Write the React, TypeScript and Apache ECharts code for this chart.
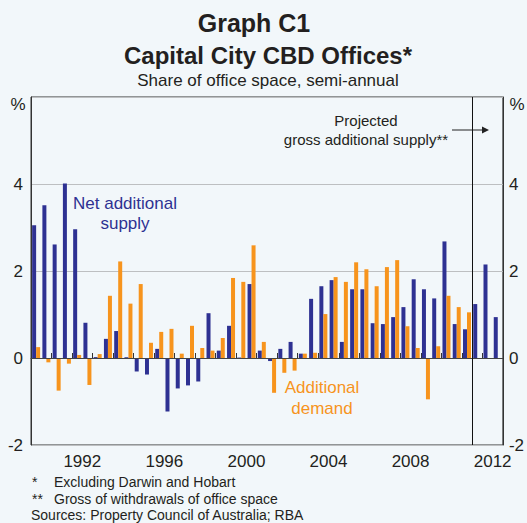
import React, { useEffect, useRef } from "react";
import * as echarts from "echarts";

const periods: string[] = [];
for (let y = 1990; y <= 2012; y++) {
  periods.push(`${y}-H1`);
  periods.push(`${y}-H2`);
}
const years: string[] = [];
for (let y = 1990; y <= 2012; y++) years.push(String(y));

// Net additional supply (per cent of office space), semi-annual
const supply = [
  3.05, 3.51, 2.61, 4.01, 2.96, 0.81, 0.02, 0.44, 0.62, 0.02,
  -0.31, -0.38, 0.21, -1.23, -0.70, -0.63, -0.54, 1.03, 0.17, 0.74,
  0.01, 1.70, 0.17, -0.07, 0.21, 0.37, 0.10, 1.36, 1.65, 1.79,
  0.37, 1.58, 1.58, 0.80, 0.78, 0.94, 1.17, 1.81, 1.58, 1.37,
  2.68, 0.78, 0.66, 1.24, 2.15, 0.94,
];
// Additional demand
const demand = [
  0.25, -0.10, -0.75, -0.13, 0.07, -0.62, 0.09, 1.43, 2.22, 1.25,
  1.70, 0.35, 0.60, 0.67, 0.10, 0.74, 0.23, 0.17, 0.46, 1.84,
  1.75, 2.59, 0.37, -0.80, -0.34, -0.29, 0.10, 0.12, 1.01, 1.86,
  1.75, 2.20, 2.04, 1.65, 2.09, 2.25, 0.73, 0.23, -0.95, 0.27,
  1.43, 1.17, 1.05, null, null, null,
];
const projectionStartYear = "2011";
const yTicks = { min: -2, max: 6, interval: 2 };

const BLUE = "#2E3192";
const ORANGE = "#F7941D";
const BG = "#F2F7FA";
const FONT = "Liberation Sans, Arial, sans-serif";
const TXT = "#231F20";

export default function App() {
  const ref = useRef<HTMLDivElement>(null);
  useEffect(() => {
    if (!ref.current) return;
    const chart = echarts.init(ref.current, null, { renderer: "svg" });
    const t = (x: number, y: number, text: string, size: number, opts: any = {}) => ({
      type: "text",
      x,
      y,
      style: {
        text,
        fontSize: size,
        fontFamily: FONT,
        fill: opts.fill || TXT,
        fontWeight: opts.bold ? "bold" : "normal",
        align: opts.align || "center",
        verticalAlign: "middle",
        lineHeight: opts.lineHeight,
      },
    });
    chart.setOption({
      animation: false,
      backgroundColor: BG,
      textStyle: { fontFamily: FONT },
      grid: {
        left: 31,
        right: 22,
        top: 97,
        bottom: 78,
        show: true,
        borderColor: "#333",
        borderWidth: 1,
        backgroundColor: "transparent",
      },
      xAxis: [
        {
          type: "category",
          data: periods,
          boundaryGap: true,
          axisLine: { show: false },
          axisTick: { show: false },
          axisLabel: { show: false },
          splitLine: { show: false },
        },
        {
          type: "category",
          data: years,
          position: "bottom",
          boundaryGap: true,
          axisLine: { show: true, lineStyle: { color: "#333", width: 1 } },
          axisTick: { show: true, inside: true, length: 5, interval: 0, lineStyle: { color: "#333" } },
          axisLabel: {
            interval: (i: number, v: string) => Number(v) % 4 === 0,
            fontSize: 17,
            color: TXT,
            margin: 8,
            fontFamily: FONT,
          },
          splitLine: { show: false },
        },
      ],
      yAxis: [
        {
          type: "value",
          ...yTicks,
          axisLine: { show: true, lineStyle: { color: "#333" } },
          axisTick: { show: false },
          axisLabel: {
            fontSize: 17,
            color: TXT,
            margin: 8,
            fontFamily: FONT,
            formatter: (v: number) => (v === yTicks.max ? "" : String(v)),
          },
          splitLine: { show: true, lineStyle: { color: "#BDBFC1", width: 1 } },
        },
        {
          type: "value",
          position: "right",
          ...yTicks,
          axisLine: { show: true, lineStyle: { color: "#333" } },
          axisTick: { show: false },
          axisLabel: {
            fontSize: 17,
            color: TXT,
            margin: 6,
            fontFamily: FONT,
            formatter: (v: number) => (v === yTicks.max ? "" : String(v)),
          },
          splitLine: { show: false },
        },
      ],
      series: [
        {
          name: "Net additional supply",
          type: "bar",
          xAxisIndex: 0,
          yAxisIndex: 0,
          data: supply,
          barWidth: 4,
          barGap: "0%",
          itemStyle: { color: BLUE },
          markLine: {
            silent: true,
            symbol: "none",
            label: { show: false },
            lineStyle: { color: "#444", width: 1, type: "solid" },
            data: [{ yAxis: 0 }],
          },
        },
        {
          name: "Additional demand",
          type: "bar",
          xAxisIndex: 0,
          yAxisIndex: 0,
          data: demand,
          barWidth: 4,
          barGap: "0%",
          itemStyle: { color: ORANGE },
        },
        {
          name: "projection",
          type: "line",
          xAxisIndex: 1,
          yAxisIndex: 0,
          data: [],
          markLine: {
            silent: true,
            symbol: "none",
            label: { show: false },
            lineStyle: { color: "#111", width: 1, type: "solid" },
            data: [{ xAxis: projectionStartYear }],
          },
        },
      ],
      graphic: [
        t(254, 23, "Graph C1", 25, { bold: true }),
        t(268, 55, "Capital City CBD Offices*", 24, { bold: true }),
        t(268, 80, "Share of office space, semi-annual", 17),
        t(18, 104, "%", 17),
        t(517, 104, "%", 17),
        t(125, 213, "Net additional\nsupply", 17, { fill: BLUE, lineHeight: 20 }),
        t(322, 398, "Additional\ndemand", 17, { fill: ORANGE, lineHeight: 21 }),
        t(366, 130, "Projected\ngross additional supply**", 15, { lineHeight: 19 }),
        {
          type: "line",
          shape: { x1: 452, y1: 130, x2: 483, y2: 130 },
          style: { stroke: "#222", lineWidth: 1 },
        },
        {
          type: "polygon",
          shape: { points: [[482, 126.5], [489, 130], [482, 133.5]] },
          style: { fill: "#222" },
        },
        t(32, 482, "*", 14, { align: "left" }),
        t(54, 482, "Excluding Darwin and Hobart", 14, { align: "left" }),
        t(32, 498.5, "**", 14, { align: "left" }),
        t(54, 498.5, "Gross of withdrawals of office space", 14, { align: "left" }),
        t(31, 514.5, "Sources: Property Council of Australia; RBA", 14, { align: "left" }),
      ],
    });
    return () => chart.dispose();
  }, []);
  return (
    <div
      ref={ref}
      style={{ position: "fixed", left: 0, top: 0, width: 527, height: 523, background: BG }}
    />
  );
}
